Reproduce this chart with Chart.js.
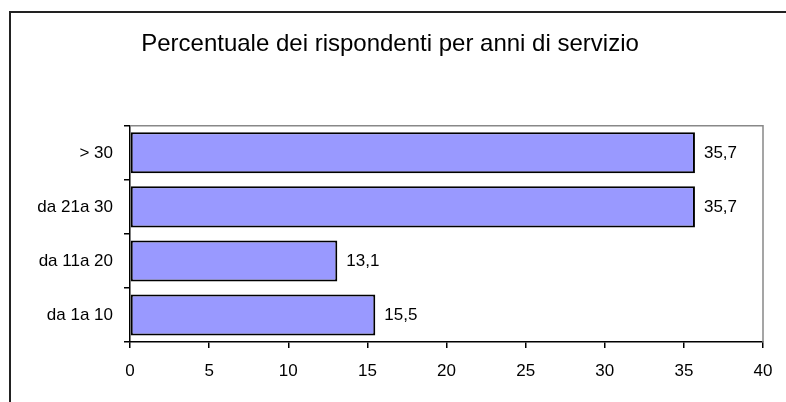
<!DOCTYPE html>
<html>
<head>
<meta charset="utf-8">
<script src="https://cdn.jsdelivr.net/npm/chart.js@4/dist/chart.umd.min.js"></script>
<style>
  body { margin: 0; background: #fff; }
  #wrap { position: relative; width: 786px; height: 402px; overflow: hidden; }
  #frame { position: absolute; left: 9px; top: 11px; width: 900px; height: 500px;
           border-left: 2px solid #222; border-top: 2px solid #222; pointer-events: none; }
  canvas { position: absolute; left: 0; top: 0; }
</style>
</head>
<body>
<div id="wrap">
  <canvas id="chart" width="786" height="402"></canvas>
  <div id="frame"></div>
</div>
<script>
var categories = ['> 30', 'da 21a 30', 'da 11a 20', 'da 1a 10'];
var values = [35.7, 35.7, 13.1, 15.5];
var xTicks = [0, 5, 10, 15, 20, 25, 30, 35, 40];
var titleText = 'Percentuale dei rispondenti per anni di servizio';

var fontFamily = '"Liberation Sans", Arial, sans-serif';

// bordo grigio dell'area del grafico (alto e destra)
var plotFrame = {
    id: 'plotFrame',
    beforeDatasetsDraw: function (chart) {
        var a = chart.chartArea, ctx = chart.ctx;
        ctx.save();
        ctx.strokeStyle = '#888';
        ctx.lineWidth = 1.5;
        ctx.beginPath();
        ctx.moveTo(a.left, a.top);
        ctx.lineTo(a.right, a.top);
        ctx.lineTo(a.right, a.bottom);
        ctx.stroke();
        ctx.restore();
    }
};

// etichette dei valori a destra delle barre
var valueLabels = {
    id: 'valueLabels',
    afterDatasetsDraw: function (chart) {
        var ctx = chart.ctx;
        var meta = chart.getDatasetMeta(0);
        ctx.save();
        ctx.font = '17px ' + fontFamily;
        ctx.fillStyle = '#000';
        ctx.textAlign = 'left';
        ctx.textBaseline = 'middle';
        meta.data.forEach(function (bar, i) {
            ctx.fillText(String(values[i]).replace('.', ','), bar.x + 9, bar.y);
        });
        ctx.restore();
    }
};

var ctx = document.getElementById('chart').getContext('2d');
new Chart(ctx, {
    type: 'bar',
    data: {
        labels: categories,
        datasets: [{
            data: values,
            backgroundColor: '#9999FF',
            borderColor: '#000',
            borderWidth: 2,
            borderSkipped: false,
            barPercentage: 0.76,
            categoryPercentage: 1
        }]
    },
    options: {
        indexAxis: 'y',
        responsive: false,
        animation: false,
        layout: { padding: { left: 17, right: 23, top: 0, bottom: 0 } },
        scales: {
            x: {
                min: 0,
                max: 40,
                afterBuildTicks: function (scale) {
                    scale.ticks = xTicks.map(function (v) { return { value: v }; });
                },
                afterFit: function (scale) { scale.height = 60; },
                grid: { drawOnChartArea: false, drawTicks: true, tickLength: 6, color: '#000', lineWidth: 1.5 },
                border: { display: true, color: '#000', width: 1.5 },
                ticks: { color: '#000', padding: 13, maxRotation: 0, font: { size: 17, family: fontFamily } }
            },
            y: {
                afterFit: function (scale) { scale.width = 113; },
                grid: { drawOnChartArea: false, drawTicks: true, tickLength: 6, color: '#000', lineWidth: 1.5, offset: true },
                border: { display: true, color: '#000', width: 1.5 },
                ticks: { color: '#000', padding: 11, font: { size: 17, family: fontFamily } }
            }
        },
        plugins: {
            legend: { display: false },
            tooltip: { enabled: false },
            title: {
                display: true,
                text: titleText,
                color: '#000',
                font: { size: 24, family: fontFamily, weight: 'normal', lineHeight: 1.2 },
                padding: { top: 30, bottom: 67 }
            }
        }
    },
    plugins: [plotFrame, valueLabels]
});
</script>
</body>
</html>
